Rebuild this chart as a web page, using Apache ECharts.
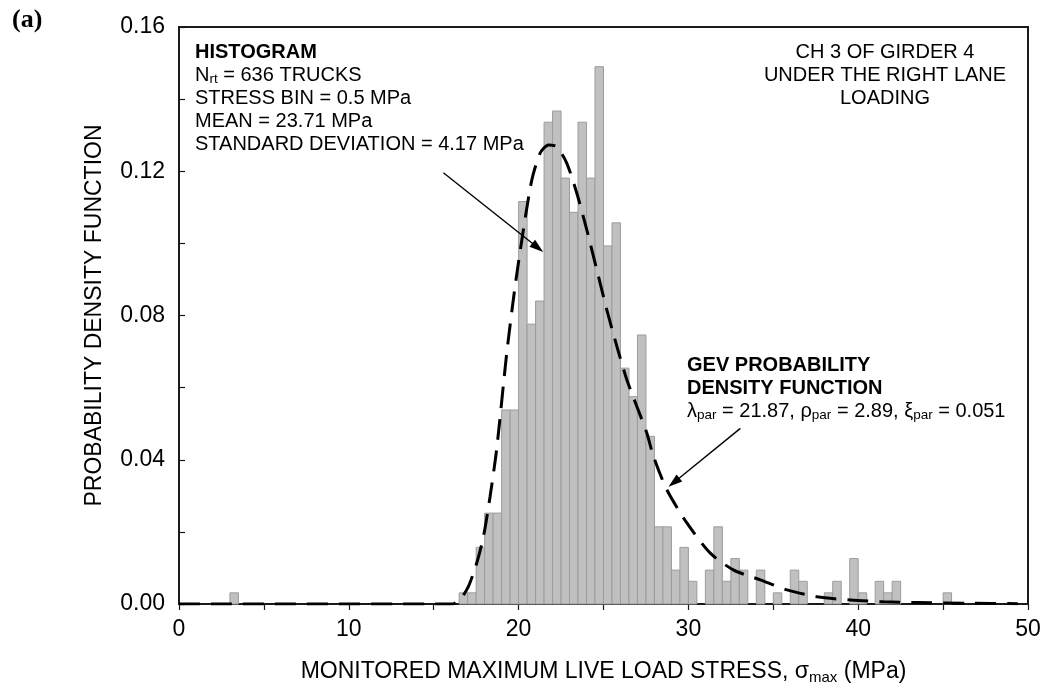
<!DOCTYPE html>
<html>
<head>
<meta charset="utf-8">
<script src="https://cdn.jsdelivr.net/npm/echarts@6/dist/echarts.min.js"></script>
<style>
  html, body { margin: 0; padding: 0; background: #ffffff; }
  #chart { width: 1046px; height: 689px; }
</style>
</head>
<body>
<div id="chart"></div>
<script>
// Histogram of monitored maximum live-load stress (bin = 0.5 MPa), density per bin
const BIN_WIDTH = 0.5;
const binStart = [3.0, 16.5, 17.0, 17.5, 18.0, 18.5, 19.0, 19.5, 20.0, 20.5,
                  21.0, 21.5, 22.0, 22.5, 23.0, 23.5, 24.0, 24.5, 25.0, 25.5,
                  26.0, 26.5, 27.0, 27.5, 28.0, 28.5, 29.0, 29.5, 30.0, 31.0,
                  31.5, 32.0, 32.5, 33.0, 34.0, 35.0, 36.0, 36.5, 38.0, 38.5,
                  39.5, 40.0, 41.0, 41.5, 42.0, 45.0];
const binDensity = [0.0031, 0.0031, 0.0031, 0.0157, 0.0252, 0.0252, 0.0538, 0.0538, 0.1116, 0.0776,
                    0.0840, 0.1336, 0.1367, 0.1181, 0.1086, 0.1336, 0.1181, 0.1490, 0.0993, 0.1057,
                    0.0654, 0.0575, 0.0746, 0.0465, 0.0214, 0.0214, 0.0094, 0.0157, 0.0063, 0.0094,
                    0.0214, 0.0063, 0.0126, 0.0094, 0.0094, 0.0031, 0.0094, 0.0063, 0.0031, 0.0063,
                    0.0126, 0.0031, 0.0063, 0.0031, 0.0063, 0.0031];

// GEV probability density curve
const curveStress = [0, 16.0, 16.25, 16.6, 17.04, 17.53, 17.93, 18.32, 18.71, 19.30,
                     19.79, 20.28, 20.78, 21.27, 21.76, 22.25, 22.84, 23.43, 24.02, 24.61,
                     25.20, 25.79, 26.38, 26.97, 27.56, 27.95, 28.74, 29.92, 31.29, 32.67,
                     34.24, 35.81, 37.58, 39.55, 41.51, 43.48, 46.4, 49.4];
const curveDensity = [0, 0, 0.0002, 0.0015, 0.0048, 0.0113, 0.0187, 0.0298, 0.0430, 0.0695,
                      0.0880, 0.1037, 0.1176, 0.1250, 0.1273, 0.1268, 0.1222, 0.1139, 0.1037, 0.0926,
                      0.0815, 0.0714, 0.0621, 0.0547, 0.0473, 0.0408, 0.0316, 0.0224, 0.0141, 0.0094,
                      0.0067, 0.0039, 0.0020, 0.0011, 0.0006, 0.0004, 0.0002, 0.0001];

// Tick labels
const xTickLabels = [0, 10, 20, 30, 40, 50];
const yTickLabels = ['0.00', '0.04', '0.08', '0.12', '0.16'];

// Leader arrows [fromX, fromY] -> [toX, toY] in data units
const arrowFrom = [[15.57, 0.1196], [33.06, 0.0487]];
const arrowTo = [[21.45, 0.0976], [28.83, 0.0325]];

const FONT = 'Liberation Sans, Arial, sans-serif';
const INK = '#1a1a1a';
const AXIS_FONT = 23;

const chart = echarts.init(document.getElementById('chart'), null, { renderer: 'canvas' });

const noteRich = {
  b: { fontFamily: FONT, fontSize: 20, fontWeight: 'bold', lineHeight: 23, color: '#000' },
  n: { fontFamily: FONT, fontSize: 20, lineHeight: 23, color: '#000' },
  s: { fontFamily: FONT, fontSize: 13.5, lineHeight: 13, verticalAlign: 'bottom', color: '#000' }
};

const option = {
  animation: false,
  backgroundColor: '#ffffff',
  grid: {
    left: 179, right: 18, top: 27, bottom: 85,
    show: true, borderColor: INK, borderWidth: 2,
    containLabel: false, outerBoundsMode: 'none'
  },
  xAxis: {
    type: 'value', min: 0, max: 50, interval: 5,
    axisLine: { show: true, onZero: false, lineStyle: { color: INK, width: 2 } },
    axisTick: { show: true, inside: false, length: 6, lineStyle: { color: INK, width: 1.2 } },
    axisLabel: {
      margin: 14, fontSize: AXIS_FONT, fontFamily: FONT, color: '#000',
      formatter: v => (xTickLabels.indexOf(Math.round(v)) >= 0 && Math.abs(v - Math.round(v)) < 1e-6) ? String(Math.round(v)) : ''
    },
    splitLine: { show: false },
    name: '{n|MONITORED MAXIMUM LIVE LOAD STRESS, σ}{s|max}{n| (MPa)}',
    nameLocation: 'middle', nameGap: 54,
    nameTextStyle: {
      rich: {
        n: { fontFamily: FONT, fontSize: AXIS_FONT, lineHeight: 27, color: '#000' },
        s: { fontFamily: FONT, fontSize: 15, lineHeight: 15, verticalAlign: 'bottom', color: '#000' }
      }
    }
  },
  yAxis: {
    type: 'value', min: 0, max: 0.16, interval: 0.02,
    axisLine: { show: true, onZero: false, lineStyle: { color: INK, width: 2 } },
    axisTick: { show: true, inside: true, length: 6, lineStyle: { color: INK, width: 1.2 } },
    axisLabel: {
      margin: 14, fontSize: AXIS_FONT, fontFamily: FONT, color: '#000',
      formatter: v => {
        const s = v.toFixed(2);
        return yTickLabels.indexOf(s) >= 0 ? s : '';
      }
    },
    splitLine: { show: false },
    name: 'PROBABILITY DENSITY FUNCTION',
    nameLocation: 'middle', nameGap: 73, nameRotate: 90,
    nameTextStyle: { fontFamily: FONT, fontSize: AXIS_FONT, color: '#000' }
  },
  graphic: [
    {
      type: 'text', left: 12, top: 7,
      style: { text: '(a)', font: 'bold 26px "Liberation Serif", "Times New Roman", serif', fill: '#000' }
    },
    {
      type: 'text', x: 195, y: 40.5,
      style: {
        text: '{b|HISTOGRAM}\n{n|N}{s|rt}{n| = 636 TRUCKS}\n{n|STRESS BIN = 0.5 MPa}\n{n|MEAN = 23.71 MPa}\n{n|STANDARD DEVIATION = 4.17 MPa}',
        rich: noteRich, align: 'left', verticalAlign: 'top'
      }
    },
    {
      type: 'text', x: 885, y: 40.5,
      style: {
        text: '{n|CH 3 OF GIRDER 4}\n{n|UNDER THE RIGHT LANE}\n{n|LOADING}',
        rich: noteRich, align: 'center', verticalAlign: 'top'
      }
    },
    {
      type: 'text', x: 687, y: 353.5,
      style: {
        text: '{b|GEV PROBABILITY}\n{b|DENSITY FUNCTION}\n{n|λ}{s|par}{n| = 21.87, ρ}{s|par}{n| = 2.89, ξ}{s|par}{n| = 0.051}',
        rich: noteRich, align: 'left', verticalAlign: 'top'
      }
    }
  ],
  series: [
    {
      type: 'custom',
      name: 'histogram',
      silent: true,
      z: 2,
      encode: { x: 0, y: 1 },
      data: binStart.map((s, i) => [s, binDensity[i]]),
      renderItem: (params, api) => {
        const x0 = api.value(0);
        const v = api.value(1);
        const pTop = api.coord([x0, v]);
        const pBot = api.coord([x0 + BIN_WIDTH, 0]);
        return {
          type: 'rect',
          shape: { x: pTop[0], y: pTop[1], width: pBot[0] - pTop[0], height: pBot[1] - pTop[1] },
          style: { fill: '#c0c0c0', stroke: '#9c9c9c', lineWidth: 1 }
        };
      }
    },
    {
      type: 'line',
      name: 'GEV',
      silent: true,
      z: 3,
      data: curveStress.map((x, i) => [x, curveDensity[i]]),
      showSymbol: false,
      symbol: 'none',
      smooth: 0.25,
      lineStyle: { color: '#000', width: 3, type: [21, 11] }
    },
    {
      type: 'custom',
      name: 'arrows',
      silent: true,
      z: 4,
      data: arrowFrom.map((f, i) => [f[0], f[1], arrowTo[i][0], arrowTo[i][1]]),
      renderItem: (params, api) => {
        const p1 = api.coord([api.value(0), api.value(1)]);
        const p2 = api.coord([api.value(2), api.value(3)]);
        const dx = p2[0] - p1[0], dy = p2[1] - p1[1];
        const len = Math.sqrt(dx * dx + dy * dy);
        const ux = dx / len, uy = dy / len;
        const headLen = 14, headHalf = 4.5;
        const bx = p2[0] - ux * headLen, by = p2[1] - uy * headLen;
        return {
          type: 'group',
          children: [
            {
              type: 'line',
              shape: { x1: p1[0], y1: p1[1], x2: bx + ux * 2, y2: by + uy * 2 },
              style: { stroke: '#000', lineWidth: 1.4 }
            },
            {
              type: 'polygon',
              shape: { points: [
                [p2[0], p2[1]],
                [bx - uy * headHalf, by + ux * headHalf],
                [bx + uy * headHalf, by - ux * headHalf]
              ] },
              style: { fill: '#000' }
            }
          ]
        };
      }
    }
  ]
};

chart.setOption(option);
</script>
</body>
</html>
